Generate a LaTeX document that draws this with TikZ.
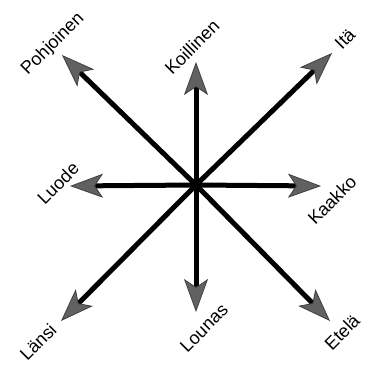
\documentclass[tikz,border=0pt]{standalone}
\usepackage{fontspec}
\setmainfont{Liberation Sans}
\usetikzlibrary{arrows.meta}
\begin{document}
\begin{tikzpicture}[x=1pt,y=-1pt,
  ray/.style={line width=5pt,black,
    -{Stealth[length=33pt,width=24pt,inset=8pt,fill=black!62,color=black!75,line width=0.8pt]}},
  lbl/.style={rotate=45,inner sep=0pt,font=\fontsize{18}{18}\selectfont}]
\useasboundingbox (0,0) rectangle (369,368);
\coordinate (c) at (196,185);
\coordinate (tnw) at (62,55);
\coordinate (tn) at (196,62);
\coordinate (tne) at (332,53);
\coordinate (tw) at (70,186);
\coordinate (te) at (321,186);
\coordinate (tsw) at (61,321);
\coordinate (ts) at (196,312);
\coordinate (tse) at (330,321);
\foreach \t in {tnw,tn,tne,tw,te,tsw,ts,tse}{\draw[ray] (c) -- (\t);}
\fill[black] (c) circle (6.5);
\node[lbl] (pohjoinen) at (53,44) {Pohjoinen};
\node[lbl] (koillinen) at (192,47) {Koillinen};
\node[lbl] (ita) at (345,39) {Itä};
\node[lbl] (luode) at (58,183) {Luode};
\node[lbl] (kaakko) at (332,200) {Kaakko};
\node[lbl] (lansi) at (38,342) {Länsi};
\node[lbl] (lounas) at (204,328) {Lounas};
\node[lbl] (etela) at (342,332) {Etelä};
\end{tikzpicture}
\end{document}
